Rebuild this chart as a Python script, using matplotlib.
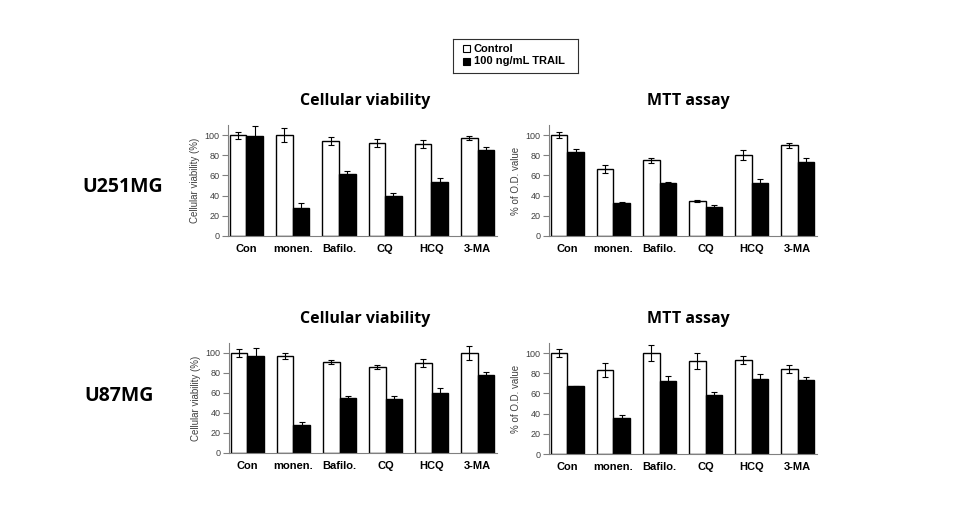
import matplotlib.pyplot as plt
import numpy as np

groups = ["Con", "monen.", "Bafilo.", "CQ", "HCQ", "3-MA"]

# U251MG
u251_via_ctrl = [100, 100, 94, 92, 91, 97]
u251_via_ctrl_err = [3.5, 7, 4, 4, 4, 2]
u251_via_trail = [99, 28, 61, 40, 54, 85]
u251_via_trail_err = [10, 5, 3, 3, 3, 3]

u251_mtt_ctrl = [100, 66, 75, 35, 80, 90]
u251_mtt_ctrl_err = [3, 4, 2.5, 1, 5, 2.5]
u251_mtt_trail = [83, 33, 53, 29, 53, 73]
u251_mtt_trail_err = [3, 1, 1, 2, 3, 4]

# U87MG
u87_via_ctrl = [100, 97, 91, 86, 90, 100]
u87_via_ctrl_err = [4, 3, 2, 2, 4, 7]
u87_via_trail = [97, 28, 55, 54, 60, 78]
u87_via_trail_err = [8, 3, 2, 3, 5, 3]

u87_mtt_ctrl = [100, 83, 100, 92, 93, 84]
u87_mtt_ctrl_err = [4, 7, 8, 8, 4, 4]
u87_mtt_trail = [67, 36, 72, 58, 74, 73]
u87_mtt_trail_err = [0.5, 3, 5, 3, 5, 3]

W, H = 954, 527
fig = plt.figure(figsize=(W / 100, H / 100), dpi=100)
fig.patch.set_facecolor("white")


def px_axes(l, t, r, b):
    return fig.add_axes([l / W, 1 - b / H, (r - l) / W, (b - t) / H])


def draw(ax, ctrl, ctrl_err, trail, trail_err, ylabel):
    x = np.arange(len(groups))
    bw = 0.36
    ekw = dict(ecolor="black", elinewidth=0.8, capsize=2.5, capthick=0.8)
    ax.bar(x - bw / 2, ctrl, bw, color="white", edgecolor="black", linewidth=1.0,
           yerr=ctrl_err, error_kw=ekw)
    ax.bar(x + bw / 2, trail, bw, color="black", edgecolor="black", linewidth=1.0,
           yerr=trail_err, error_kw=ekw)
    ax.set_xlim(-0.4, 5.42)
    ax.set_ylim(0, 110)
    ax.set_yticks(range(0, 101, 20))
    ax.set_xticks(x)
    ax.set_xticklabels(groups, fontsize=8, fontweight="bold", family="Liberation Sans")
    ax.tick_params(axis="x", length=0, pad=6)
    ax.tick_params(axis="y", length=4, width=0.8, color="#808080", labelsize=6.5,
                   labelcolor="#404040", pad=2)
    for lab in ax.get_yticklabels():
        lab.set_family("Liberation Sans")
    ax.set_ylabel(ylabel, fontsize=7, color="#404040", family="Liberation Sans", labelpad=3)
    for s in ("top", "right"):
        ax.spines[s].set_visible(False)
    for s in ("left", "bottom"):
        ax.spines[s].set_color("#808080")
        ax.spines[s].set_linewidth(0.8)


ax1 = px_axes(228, 125, 497, 236)
draw(ax1, u251_via_ctrl, u251_via_ctrl_err, u251_via_trail, u251_via_trail_err, "Cellular viability (%)")
ax2 = px_axes(549, 125, 817, 236)
draw(ax2, u251_mtt_ctrl, u251_mtt_ctrl_err, u251_mtt_trail, u251_mtt_trail_err, "% of O.D. value")
ax3 = px_axes(229, 343, 497, 453)
draw(ax3, u87_via_ctrl, u87_via_ctrl_err, u87_via_trail, u87_via_trail_err, "Cellular viability (%)")
ax4 = px_axes(549, 343, 817, 454)
draw(ax4, u87_mtt_ctrl, u87_mtt_ctrl_err, u87_mtt_trail, u87_mtt_trail_err, "% of O.D. value")

title_kw = dict(fontsize=11.5, fontweight="bold", ha="center", va="center", family="Open Sans")
fig.text(365 / W, 1 - 101 / H, "Cellular viability", **title_kw)
fig.text(688 / W, 1 - 101 / H, "MTT assay", **title_kw)
fig.text(365 / W, 1 - 319 / H, "Cellular viability", **title_kw)
fig.text(688 / W, 1 - 319 / H, "MTT assay", **title_kw)

row_kw = dict(fontsize=14, fontweight="bold", ha="left", va="center", family="Open Sans")
fig.text(82 / W, 1 - 187 / H, "U251MG", **row_kw)
fig.text(84 / W, 1 - 396 / H, "U87MG", **row_kw)

# legend box
leg = fig.add_axes([453 / W, 1 - 73 / H, 125 / W, 34 / H])
leg.set_xticks([]); leg.set_yticks([])
for s in leg.spines.values():
    s.set_linewidth(0.8)
    s.set_color("#303030")
leg.set_xlim(0, 125); leg.set_ylim(34, 0)
leg.add_patch(plt.Rectangle((10, 6), 7, 7, facecolor="white", edgecolor="black", linewidth=0.8))
leg.add_patch(plt.Rectangle((10, 19), 7, 7, facecolor="black", edgecolor="black", linewidth=0.8))
leg.text(21, 9.5, "Control", fontsize=8, fontweight="bold", va="center", family="Liberation Sans")
leg.text(21, 22.5, "100 ng/mL TRAIL", fontsize=8, fontweight="bold", va="center", family="Liberation Sans")

fig.savefig("out.png", dpi=100, facecolor="white")
